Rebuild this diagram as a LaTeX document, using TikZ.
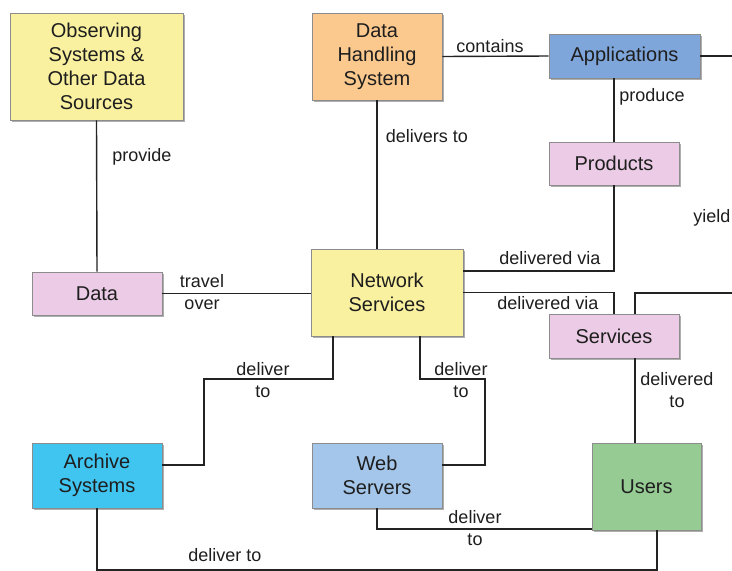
\documentclass[tikz,border=0pt]{standalone}
\usepackage{fontspec}
\setmainfont{Liberation Sans}
\usetikzlibrary{shadows}
\definecolor{cyell}{RGB}{250,241,160}
\definecolor{corange}{RGB}{251,201,142}
\definecolor{cblue}{RGB}{127,166,218}
\definecolor{cpink}{RGB}{235,203,229}
\definecolor{ccyan}{RGB}{64,196,240}
\definecolor{clblue}{RGB}{164,198,234}
\definecolor{cgreen}{RGB}{150,203,148}
\definecolor{ctext}{RGB}{30,30,30}
\definecolor{cline}{RGB}{35,35,35}
\begin{document}
\begin{tikzpicture}[x=1pt,y=-1pt,
  box/.style={draw=black!45, line width=0.6pt, align=center, inner sep=0pt,
    text=ctext, font=\fontsize{20}{24}\selectfont,
    drop shadow={shadow xshift=1.5pt, shadow yshift=-2pt, opacity=0.45, fill=black!70}},
  lbl/.style={align=center, inner sep=0pt, text=ctext, font=\fontsize{18}{22}\selectfont},
  conn/.style={draw=cline, line width=1.4pt}]
\useasboundingbox (0,0) rectangle (732,571);
\fill[white] (0,0) rectangle (732,571);

% boxes
\node[box, fill=cyell, minimum width=173pt, minimum height=107pt] (obs) at (96.5,66.5) {Observing\\Systems \&\\Other Data\\Sources};
\node[box, fill=corange, minimum width=130pt, minimum height=87pt] (dhs) at (377,56.5) {Data\\Handling\\System};
\node[box, fill=cblue, minimum width=151pt, minimum height=44pt] (app) at (624.5,56) {Applications};
\node[box, fill=cpink, minimum width=130pt, minimum height=43pt] (prod) at (614,163.5) {Products};
\node[box, fill=cpink, minimum width=130pt, minimum height=43pt] (data) at (97,293.5) {Data};
\node[box, fill=cyell, minimum width=152pt, minimum height=87pt] (net) at (387,292.5) {Network\\Services};
\node[box, fill=cpink, minimum width=130pt, minimum height=44pt] (serv) at (614,336) {Services};
\node[box, fill=ccyan, minimum width=130pt, minimum height=65pt] (arch) at (97,475.5) {Archive\\Systems};
\node[box, fill=clblue, minimum width=130pt, minimum height=65pt] (web) at (377,475.5) {Web\\Servers};
\node[box, fill=cgreen, minimum width=109pt, minimum height=87pt] (users) at (646.5,486.5) {Users};

% free ends and bends
\coordinate (eA) at (732,56);
\coordinate (eS) at (732,293);
\coordinate (k1) at (204,379);
\coordinate (k2) at (485,379);
\coordinate (k3) at (657,570);

% connectors
\draw[conn] (obs.south) -- (data.north);
\draw[conn] (dhs.east) -- (app.west);
\draw[conn] (app.east) -- (eA);
\draw[conn] (prod.north) -- (prod.north |- app.south);
\draw[conn] (dhs.south) -- (dhs.south |- net.north);
\draw[conn] (data.east) -- (data.east -| net.west);
\draw[conn] (prod.south) |- ([yshift=21.5pt]net.east);
\draw[conn] (net.east) -| (serv.north);
\draw[conn] (eS) -| ([xshift=21pt]serv.north);
\draw[conn] ([xshift=21pt]serv.south) -- ([xshift=21pt]serv.south |- users.north);
\draw[conn] ([xshift=-54pt]net.south) |- (k1) |- ([yshift=10.5pt]arch.east);
\draw[conn] ([xshift=33pt]net.south) |- (k2) |- ([yshift=10.5pt]web.east);
\draw[conn] (web.south) |- ([yshift=-42.5pt]users.west);
\draw[conn] (arch.south) |- (k3) -- (k3 |- users.south);

% labels
\node[lbl] (l1) at (142,157) {provide};
\node[lbl] (l2) at (490,46) {contains};
\node[lbl] (l3) at (652,97) {produce};
\node[lbl] (l4) at (427,136) {delivers to};
\node[lbl] (l5) at (202,292) {travel\\over};
\node[lbl] (l6) at (550,258) {delivered via};
\node[lbl] (l7) at (548,303) {delivered via};
\node[lbl] (l8) at (677,390) {delivered\\to};
\node[lbl] (l9) at (712,218) {yield};
\node[lbl] (l10) at (263,380) {deliver\\to};
\node[lbl] (l11) at (461,380) {deliver\\to};
\node[lbl] (l12) at (475,528) {deliver\\to};
\node[lbl] (l13) at (225,555) {deliver to};
\end{tikzpicture}
\end{document}
